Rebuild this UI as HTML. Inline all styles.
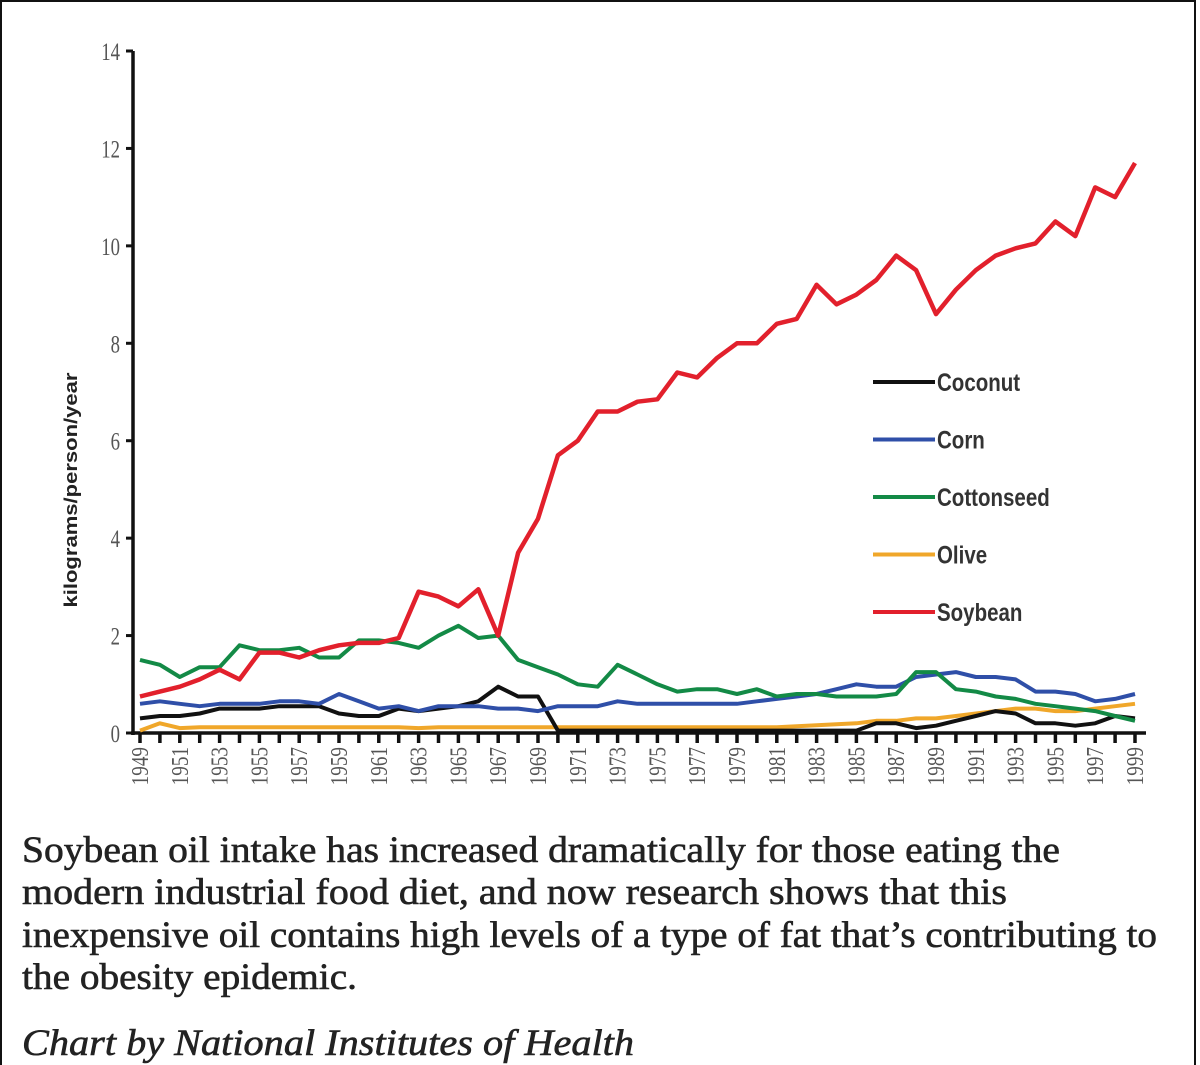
<!DOCTYPE html>
<html><head><meta charset="utf-8"><style>
html,body{margin:0;padding:0;background:#fff;}
svg{display:block;}
</style></head><body>
<svg id="chart" width="1200" height="1065" viewBox="0 0 1200 1065" xmlns="http://www.w3.org/2000/svg">
<rect x="1" y="1" width="1194" height="1070" fill="#fff" stroke="#111" stroke-width="2"/>
<g id="axes"></g>
<g id="series"></g>
<g id="legend"></g>
<text transform="translate(77,490) rotate(-90)" text-anchor="middle" font-family="Liberation Sans Narrow, Liberation Sans, sans-serif" font-weight="bold" font-size="18" fill="#222" textLength="235" lengthAdjust="spacingAndGlyphs">kilograms/person/year</text>
<g font-family="Liberation Serif, serif" font-size="37" fill="#222" stroke="#222" stroke-width="0.6">
<text x="22" y="862" textLength="1038" lengthAdjust="spacingAndGlyphs">Soybean oil intake has increased dramatically for those eating the</text>
<text x="22" y="904" textLength="985" lengthAdjust="spacingAndGlyphs">modern industrial food diet, and now research shows that this</text>
<text x="22" y="947" textLength="1135" lengthAdjust="spacingAndGlyphs">inexpensive oil contains high levels of a type of fat that’s contributing to</text>
<text x="22" y="989" textLength="335" lengthAdjust="spacingAndGlyphs">the obesity epidemic.</text>
<text x="22" y="1055" font-style="italic" textLength="612" lengthAdjust="spacingAndGlyphs">Chart by National Institutes of Health</text>
</g>
</svg>
<script>
const years = [];
for (let y = 1949; y <= 1999; y++) years.push(y);
const soybean = [0.75,0.85,0.95,1.1,1.3,1.1,1.65,1.65,1.55,1.7,1.8,1.85,1.85,1.95,2.9,2.8,2.6,2.95,2.0,3.7,4.4,5.7,6.0,6.6,6.6,6.8,6.85,7.4,7.3,7.7,8.0,8.0,8.4,8.5,9.2,8.8,9.0,9.3,9.8,9.5,8.6,9.1,9.5,9.8,9.95,10.05,10.5,10.2,11.2,11.0,11.7];
const cottonseed = [1.5,1.4,1.15,1.35,1.35,1.8,1.7,1.7,1.75,1.55,1.55,1.9,1.9,1.85,1.75,2.0,2.2,1.95,2.0,1.5,1.35,1.2,1.0,0.95,1.4,1.2,1.0,0.85,0.9,0.9,0.8,0.9,0.75,0.8,0.8,0.75,0.75,0.75,0.8,1.25,1.25,0.9,0.85,0.75,0.7,0.6,0.55,0.5,0.45,0.35,0.25];
const corn = [0.6,0.65,0.6,0.55,0.6,0.6,0.6,0.65,0.65,0.6,0.8,0.65,0.5,0.55,0.45,0.55,0.55,0.55,0.5,0.5,0.45,0.55,0.55,0.55,0.65,0.6,0.6,0.6,0.6,0.6,0.6,0.65,0.7,0.75,0.8,0.9,1.0,0.95,0.95,1.15,1.2,1.25,1.15,1.15,1.1,0.85,0.85,0.8,0.65,0.7,0.8];
const coconut = [0.3,0.35,0.35,0.4,0.5,0.5,0.5,0.55,0.55,0.55,0.4,0.35,0.35,0.5,0.45,0.5,0.55,0.65,0.95,0.75,0.75,0.05,0.05,0.05,0.05,0.05,0.05,0.05,0.05,0.05,0.05,0.05,0.05,0.05,0.05,0.05,0.05,0.2,0.2,0.1,0.15,0.25,0.35,0.45,0.4,0.2,0.2,0.15,0.2,0.35,0.3];
const olive = [0.05,0.2,0.1,0.12,0.12,0.12,0.12,0.12,0.12,0.12,0.12,0.12,0.12,0.12,0.1,0.12,0.12,0.12,0.12,0.12,0.12,0.12,0.12,0.12,0.12,0.12,0.12,0.12,0.12,0.12,0.12,0.12,0.12,0.14,0.16,0.18,0.2,0.25,0.25,0.3,0.3,0.35,0.4,0.45,0.5,0.5,0.45,0.45,0.5,0.55,0.6];
const seriesNames = ["Coconut","Corn","Cottonseed","Olive","Soybean"];
const yTicks = [0,2,4,6,8,10,12,14];

const NS = "http://www.w3.org/2000/svg";
const X0 = 140, X1 = 1135, Y0 = 733, Y1 = 51;
const xs = y => X0 + (y - years[0]) * (X1 - X0) / (years[years.length-1] - years[0]);
const ys = v => Y0 - v * (Y0 - Y1) / 14;
function mk(tag, attrs, parent){const e=document.createElementNS(NS,tag);for(const k in attrs)e.setAttribute(k,attrs[k]);parent.appendChild(e);return e;}

const axes = document.getElementById('axes');
let ya = mk('line',{x1:133,y1:ys(14),x2:133,y2:Y0+2,stroke:'#111','stroke-width':3.5},axes);


let xa = mk('line',{x1:131,y1:Y0,x2:1146,y2:Y0,stroke:'#111','stroke-width':3.5},axes);


yTicks.forEach(t=>{
  let tk = mk('line',{x1:126,y1:ys(t),x2:133,y2:ys(t),stroke:'#111','stroke-width':3},axes);
  
  
  let lb = mk('text',{x:120,y:ys(t)+9,'text-anchor':'end','font-family':'Liberation Serif, serif','font-size':25,fill:'#555',transform:`translate(${120*0.25},0) scale(0.75,1)`},axes);
  lb.setAttribute('x', 120/0.75 - 120*0.25/0.75);
  
  
  lb.textContent = t;
});
years.forEach((yr,i)=>{
  let tk = mk('line',{x1:xs(yr),y1:Y0,x2:xs(yr),y2:Y0+10,stroke:'#111','stroke-width':3.5},axes);
  
  
  if (yr % 2 === 1) {
    let lb = mk('text',{transform:`translate(${xs(yr)+8},${Y0+14}) rotate(-90) scale(0.8,1)`,x:0,y:0,'text-anchor':'end','font-family':'Liberation Serif, serif','font-size':24,fill:'#555'},axes);
    
    
    lb.textContent = yr;
  }
});

const colors = {Coconut:'#111',Corn:'#2f4fa8',Cottonseed:'#138a46',Olive:'#f0a72a',Soybean:'#e2202c'};
const data = {Olive:olive,Coconut:coconut,Corn:corn,Cottonseed:cottonseed,Soybean:soybean};
const sg = document.getElementById('series');
["Olive","Coconut","Corn","Cottonseed","Soybean"].forEach(n=>{
  const pts = data[n].map((v,i)=>xs(years[i]).toFixed(1)+','+ys(v).toFixed(1)).join(' ');
  let pl = mk('polyline',{points:pts,fill:'none',stroke:colors[n],'stroke-width':n==='Soybean'?4.5:4,'stroke-linejoin':'round'},sg);
  
  
});

const lg = document.getElementById('legend');
seriesNames.forEach((n,i)=>{
  const y = 382 + i*57.5;
  let l = mk('line',{x1:873,y1:y,x2:935,y2:y,stroke:colors[n],'stroke-width':4},lg);
  
  
  let t = mk('text',{x:937/0.82,y:y+9,transform:'scale(0.82,1)','font-family':'Liberation Sans Narrow, Liberation Sans, sans-serif','font-weight':'bold','font-size':25,fill:'#333'},lg);
  
  
  t.textContent = n;
});
</script>
</body></html>
